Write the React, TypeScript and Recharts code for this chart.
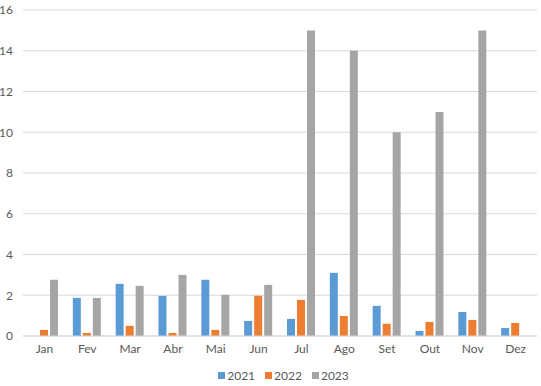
import { Bar, BarChart, CartesianGrid, Legend, XAxis, YAxis } from 'recharts';

const months = ['Jan', 'Fev', 'Mar', 'Abr', 'Mai', 'Jun', 'Jul', 'Ago', 'Set', 'Out', 'Nov', 'Dez'];
const y2021 = [0, 1.87, 2.56, 1.97, 2.76, 0.74, 0.84, 3.1, 1.48, 0.25, 1.18, 0.39];
const y2022 = [0.3, 0.15, 0.5, 0.15, 0.3, 1.97, 1.77, 0.98, 0.6, 0.69, 0.79, 0.64];
const y2023 = [2.76, 1.87, 2.46, 3.0, 2.02, 2.51, 15, 14, 10, 11, 15, 0];
const yTicks = [0, 2, 4, 6, 8, 10, 12, 14, 16];

const data = months.map((m, i) => ({ month: m, '2021': y2021[i], '2022': y2022[i], '2023': y2023[i] }));

const font = 'Lato, "Open Sans", sans-serif';
const tick = { fill: '#595959', fontSize: 12, fontFamily: font };

function LegendBox({ payload }: any) {
  return (
    <div style={{ display: 'flex', justifyContent: 'center', gap: 10, fontFamily: font, fontSize: 12, color: '#595959', paddingLeft: 30, paddingTop: 4 }}>
      {(payload || []).map((p: any) => (
        <div key={p.value} style={{ display: 'flex', alignItems: 'center', gap: 2 }}>
          <span style={{ display: 'inline-block', width: 7, height: 7, background: p.color }} />
          <span>{p.value}</span>
        </div>
      ))}
    </div>
  );
}

export default function App() {
  return (
    <div style={{ position: 'absolute', left: 0, top: 0, background: '#fff' }}>
      <BarChart
        width={541}
        height={386}
        data={data}
        margin={{ top: 10, right: 4, left: 0, bottom: 2 }}
        barSize={8}
        barGap={2}
      >
        <CartesianGrid vertical={false} stroke="#D9D9D9" />
        <XAxis
          dataKey="month"
          tick={tick}
          tickLine={false}
          axisLine={{ stroke: '#D9D9D9' }}
          height={28}
          tickMargin={2}
        />
        <YAxis
          domain={[0, 16]}
          ticks={yTicks}
          tick={tick}
          tickLine={false}
          axisLine={false}
          width={23}
          tickMargin={4}
        />
        <Legend height={20} content={<LegendBox />} />
        <Bar dataKey="2021" fill="#5B9BD5" isAnimationActive={false} />
        <Bar dataKey="2022" fill="#ED7D31" isAnimationActive={false} />
        <Bar dataKey="2023" fill="#A5A5A5" isAnimationActive={false} />
      </BarChart>
    </div>
  );
}
